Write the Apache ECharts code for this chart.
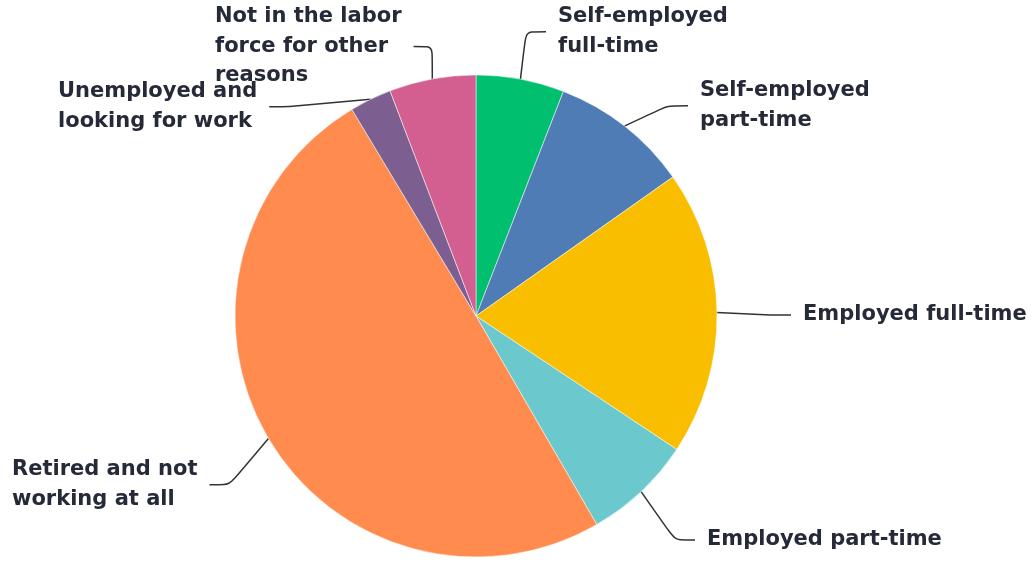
<!DOCTYPE html>
<html>
<head>
<meta charset="utf-8">
<script src="https://cdn.jsdelivr.net/npm/echarts@6/dist/echarts.min.js"></script>
<style>
  html, body { margin: 0; padding: 0; background: #fff; }
  #main { width: 1031px; height: 561px; }
</style>
</head>
<body>
<div id="main"></div>
<script>
// data (percent of respondents)
var categories = [
    'Self-employed\nfull-time',
    'Self-employed\npart-time',
    'Employed full-time',
    'Employed part-time',
    'Retired and not\nworking at all',
    'Unemployed and\nlooking for work',
    'Not in the labor\nforce for other\nreasons'
];
var values = [5.9, 9.3, 19.1, 7.3, 49.7, 2.8, 5.8];
var colors = ['#00BF6F', '#507CB6', '#F9BE00', '#6BC8CD', '#FF8B4F', '#7D5E90', '#D25F90'];

// where each label sits (left / middle of first line)
var labelPos = [
    [558, 17], [700, 91], [803, 315], [707, 540],
    [12, 470], [58, 92], [215, 17]
];
var pad = 12;

var chart = echarts.init(document.getElementById('main'));

var option = {
    animation: false,
    series: [{
        type: 'pie',
        center: [476, 316],
        radius: 241,
        startAngle: 90,
        clockwise: true,
        avoidLabelOverlap: false,
        itemStyle: {
            borderColor: '#fff',
            borderWidth: 0.5
        },
        label: {
            show: true,
            position: 'outside',
            color: '#262a38',
            fontFamily: 'DejaVu Sans',
            fontWeight: 'bold',
            fontSize: 21,
            lineHeight: 29.5,
            padding: [0, pad, 0, pad]
        },
        labelLine: {
            show: true,
            smooth: 0.2,
            length: 15,
            length2: 20,
            lineStyle: {
                color: '#333',
                width: 1.5
            }
        },
        labelLayout: function (params) {
            var p = labelPos[params.dataIndex];
            return {
                x: p[0] - pad,
                y: p[1] - 14.75,
                align: 'left',
                verticalAlign: 'top',
                hideOverlap: false
            };
        },
        data: categories.map(function (c, i) {
            return { name: c, value: values[i], itemStyle: { color: colors[i] } };
        })
    }]
};

chart.setOption(option);
</script>
</body>
</html>
